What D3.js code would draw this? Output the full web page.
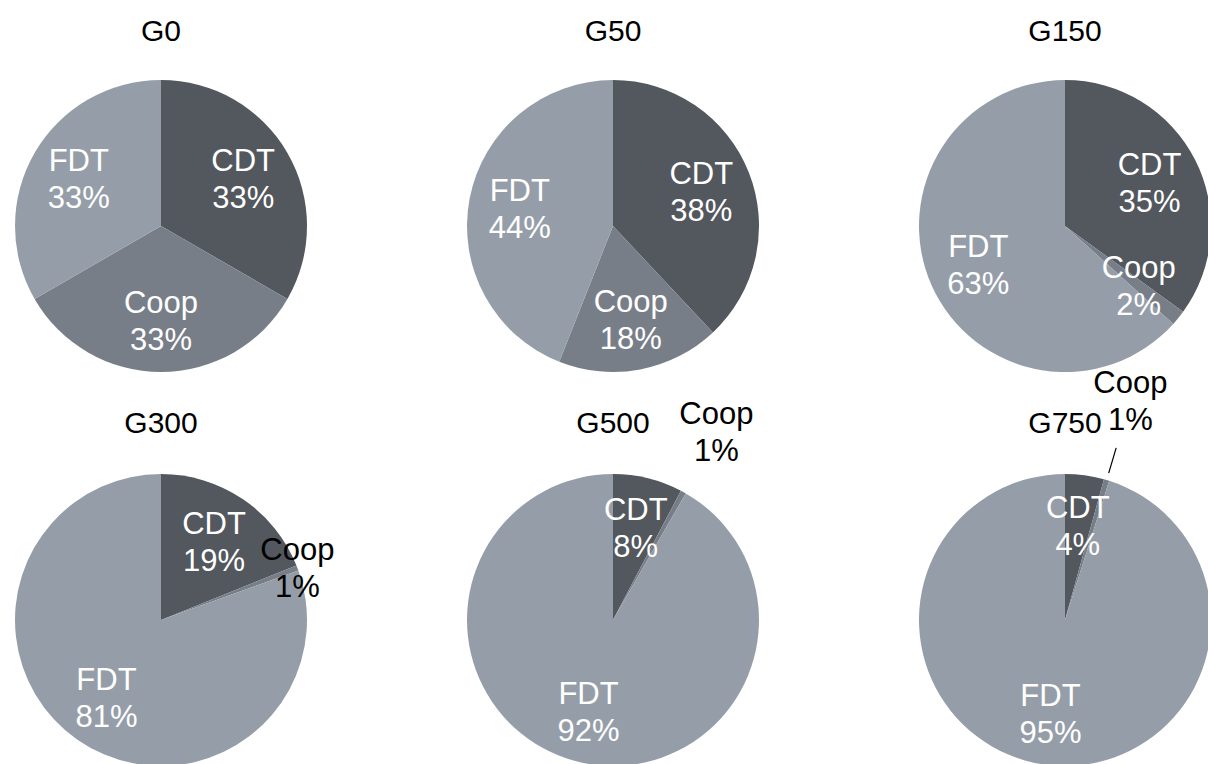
<!DOCTYPE html>
<html>
<head>
<meta charset="utf-8">
<script src="https://cdn.jsdelivr.net/npm/d3@7"></script>
<style>
  html, body { margin: 0; padding: 0; background: #fff; }
  svg { display: block; font-family: "Liberation Sans", Arial, Helvetica, sans-serif; }
</style>
</head>
<body>
<div id="chart"></div>
<script>
// one pie per generation, slices clockwise from 12 o'clock: CDT, Coop, FDT
const groups = ["G0", "G50", "G150", "G300", "G500", "G750"];
const categories = ["CDT", "Coop", "FDT"];
const cdtShare = [33.33, 38, 35, 18.9, 7.7, 4.3];
const coopShare = [33.33, 18, 1.7, 0.6, 0.6, 0.6];
const fdtShare = [33.34, 44, 63.3, 80.5, 91.7, 95.1];

// small slices get their label outside the pie (distance in radii, 0 = inside)
const coopOutside = [0, 0, 0, 1.0, 1.47, 1.57];
const coopLeader = [false, false, false, false, false, true];

const colors = ["#53575e", "#787e88", "#959ea8"];

const width = 1208;
const height = 764;
const radius = 146;
const titleSize = 30;
const labelSize = 31;

const svg = d3.select("#chart")
    .append("svg")
    .attr("width", width)
    .attr("height", height);

const colX = d3.scaleLinear().domain([0, 2]).range([161, 1065]);
const rowY = d3.scaleLinear().domain([0, 1]).range([226, 620]);
const color = d3.scaleOrdinal().domain(categories).range(colors);

const pie = d3.pie().sort(null).value(d => d.value);
const arc = d3.arc().innerRadius(0).outerRadius(radius);
const labelArc = d3.arc().innerRadius(radius * 0.65).outerRadius(radius * 0.65);

const pies = groups.map((g, i) => {
    const rows = [
        { name: "CDT", value: cdtShare[i] },
        { name: "Coop", value: coopShare[i] },
        { name: "FDT", value: fdtShare[i] }
    ];
    const total = d3.sum(rows, d => d.value);
    rows.forEach(d => d.pct = Math.round(d.value / total * 100) + "%");
    return { title: g, i, cx: colX(i % 3), cy: rowY(Math.floor(i / 3)), slices: pie(rows) };
});

// slices
pies.forEach(p => {
    const g = svg.append("g").attr("transform", `translate(${p.cx},${p.cy})`);
    g.selectAll("path")
        .data(p.slices)
        .enter()
        .append("path")
        .attr("d", arc)
        .attr("fill", d => color(d.data.name));
});

// titles
pies.forEach(p => {
    svg.append("text")
        .attr("x", p.cx)
        .attr("y", p.cy - radius - 50 + 10.5 - (p.i >= 3 ? 2 : 0))
        .attr("text-anchor", "middle")
        .style("font-size", titleSize + "px")
        .attr("fill", "#000")
        .text(p.title);
});

// labels
function twoLines(g, x, y, d, fill) {
    const t = g.append("text")
        .attr("text-anchor", "middle")
        .style("font-size", labelSize + "px")
        .attr("fill", fill);
    t.append("tspan").attr("x", x).attr("y", y - 7.5).text(d.data.name);
    t.append("tspan").attr("x", x).attr("y", y + 29.5).text(d.data.pct);
}

pies.forEach(p => {
    const g = svg.append("g").attr("transform", `translate(${p.cx},${p.cy})`);
    p.slices.forEach(d => {
        const out = d.data.name === "Coop" ? coopOutside[p.i] : 0;
        if (!out) {
            const [x, y] = labelArc.centroid(d);
            twoLines(g, x, y, d, "#fff");
        } else {
            const a = (d.startAngle + d.endAngle) / 2;
            const r = radius * out;
            const x = Math.sin(a) * r;
            const y = -Math.cos(a) * r;
            if (coopLeader[p.i]) {
                g.append("line")
                    .attr("x1", Math.sin(a) * radius * 1.05)
                    .attr("y1", -Math.cos(a) * radius * 1.05)
                    .attr("x2", Math.sin(a) * radius * 1.23)
                    .attr("y2", -Math.cos(a) * radius * 1.23)
                    .attr("stroke", "#000")
                    .attr("stroke-width", 1.2);
            }
            twoLines(g, x, y, d, "#000");
        }
    });
});
</script>
</body>
</html>
